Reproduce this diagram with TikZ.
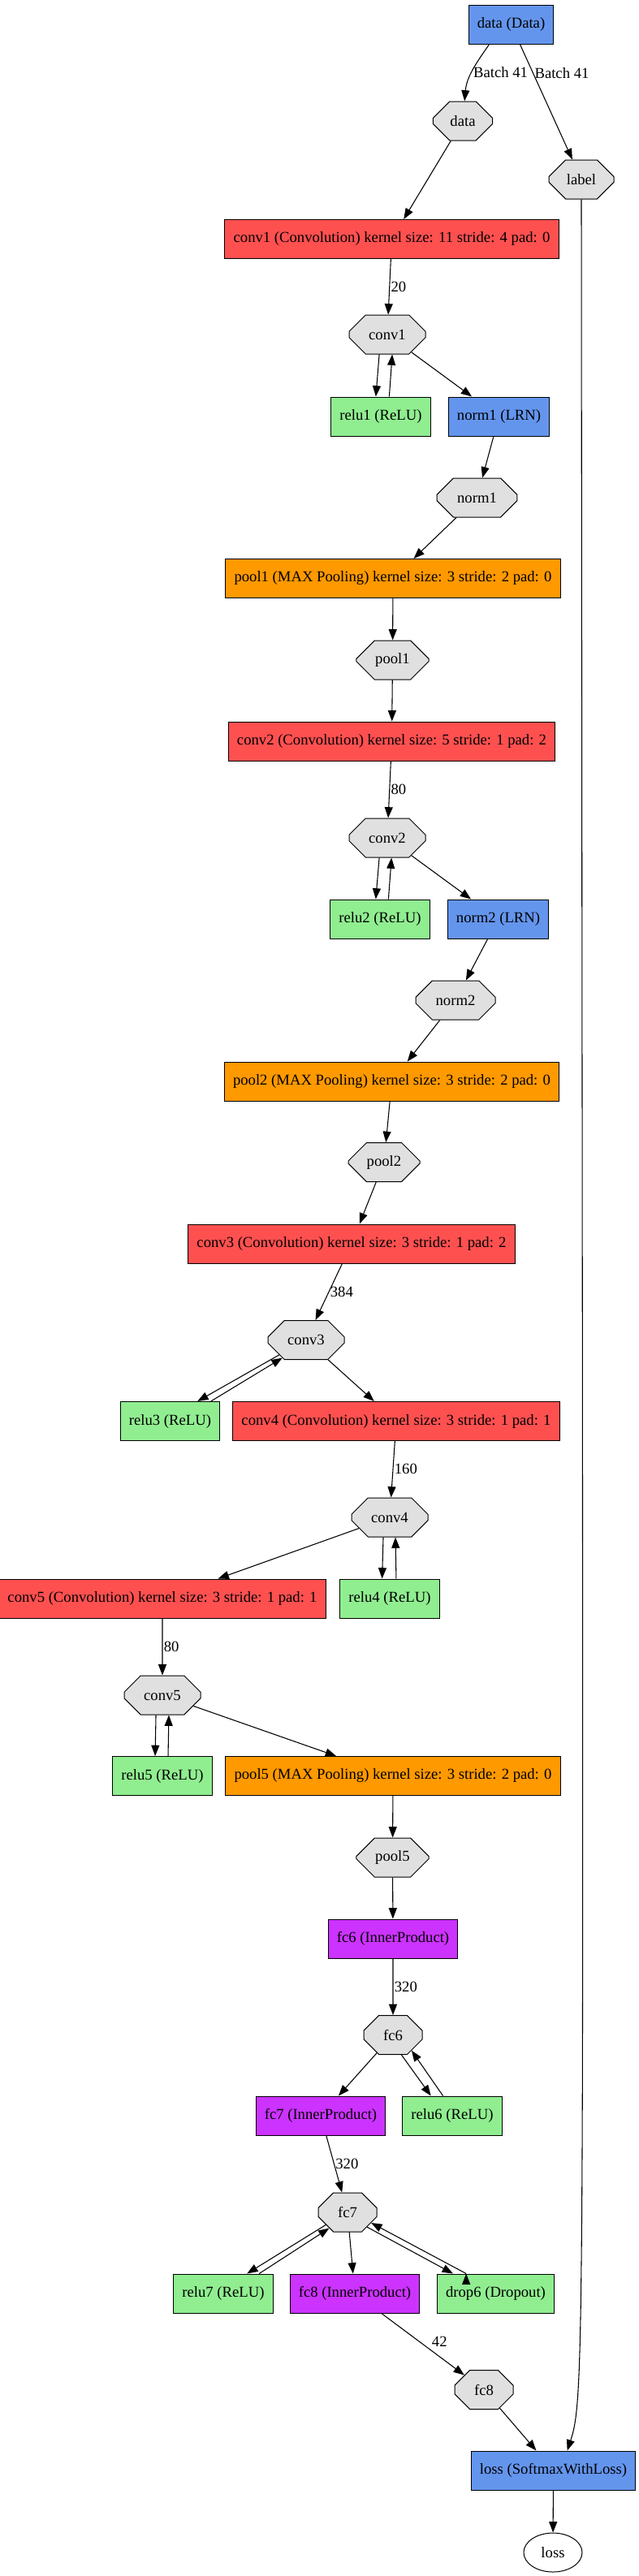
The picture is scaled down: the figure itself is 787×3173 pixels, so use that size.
\documentclass[tikz,border=0pt]{standalone}
\usepackage{fontspec}
\setmainfont{Liberation Serif}
\usetikzlibrary{arrows.meta, shapes.misc, shapes.geometric}
\definecolor{convred}{HTML}{FF5050}
\definecolor{poolorange}{HTML}{FF9900}
\definecolor{fcpurple}{HTML}{CC33FF}
\definecolor{layerblue}{HTML}{6495ED}
\definecolor{relugreen}{HTML}{90EE90}
\definecolor{blobgray}{HTML}{E0E0E0}
\tikzset{
  layer/.style={draw, rectangle, line width=0.75pt, minimum height=36pt, inner xsep=8pt, inner ysep=2pt, font=\fontsize{14}{16}\selectfont},
  convbox/.style={layer, fill=convred},
  poolbox/.style={layer, fill=poolorange},
  fcbox/.style={layer, fill=fcpurple},
  bluebox/.style={layer, fill=layerblue},
  relubox/.style={layer, fill=relugreen},
  blob/.style={draw, chamfered rectangle, chamfered rectangle xsep=19pt, chamfered rectangle ysep=10.5pt, fill=blobgray, line width=0.75pt, minimum height=36pt, minimum width=#1, inner sep=0pt, font=\fontsize{14}{16}\selectfont},
  blob/.default=54pt,
  flow/.style={->, line width=0.8pt},
  lbl/.style={anchor=west, inner sep=1pt, font=\fontsize{14}{16}\selectfont},
  >={Triangle[length=10pt, width=7.5pt]}
}
\begin{document}
\begin{tikzpicture}[x=0.75pt, y=0.75pt]
  \useasboundingbox (0,0) rectangle (787,-3173);
  % input
  \node[bluebox] (dataL) at (629.5,-30.5) {data (Data)};
  \node[blob=55pt] (datab) at (570,-149) {data};
  \node[blob=60pt] (labelb) at (716,-221) {label};
  % conv1 block
  \node[convbox] (conv1) at (482.5,-294.5) {conv1 (Convolution) kernel size: 11 stride: 4 pad: 0};
  \node[blob=70.5pt] (conv1b) at (477,-412) {conv1};
  \node[relubox] (relu1) at (469,-513) {relu1 (ReLU)};
  \node[bluebox] (norm1) at (614.5,-513) {norm1 (LRN)};
  \node[blob=74pt] (norm1b) at (587.5,-613) {norm1};
  \node[poolbox] (pool1) at (484,-712.5) {pool1 (MAX Pooling) kernel size: 3 stride: 2 pad: 0};
  \node[blob=67pt] (pool1b) at (483.5,-813) {pool1};
  % conv2 block
  \node[convbox] (conv2) at (482.5,-913) {conv2 (Convolution) kernel size: 5 stride: 1 pad: 2};
  \node[blob=70.5pt] (conv2b) at (477,-1032) {conv2};
  \node[relubox] (relu2) at (468,-1132) {relu2 (ReLU)};
  \node[bluebox] (norm2) at (613.5,-1132) {norm2 (LRN)};
  \node[blob=73.5pt] (norm2b) at (561,-1232) {norm2};
  \node[poolbox] (pool2) at (482.5,-1332) {pool2 (MAX Pooling) kernel size: 3 stride: 2 pad: 0};
  \node[blob=66pt] (pool2b) at (473,-1431.5) {pool2};
  % conv3 - conv5
  \node[convbox] (conv3) at (433,-1532) {conv3 (Convolution) kernel size: 3 stride: 1 pad: 2};
  \node[blob=70.5pt] (conv3b) at (377,-1650.5) {conv3};
  \node[relubox] (relu3) at (209.5,-1750.5) {relu3 (ReLU)};
  \node[convbox] (conv4) at (488,-1750.5) {conv4 (Convolution) kernel size: 3 stride: 1 pad: 1};
  \node[blob=70.5pt] (conv4b) at (480,-1869) {conv4};
  \node[convbox] (conv5) at (200,-1969) {conv5 (Convolution) kernel size: 3 stride: 1 pad: 1};
  \node[relubox] (relu4) at (480,-1969) {relu4 (ReLU)};
  \node[blob=70.5pt] (conv5b) at (200,-2088) {conv5};
  \node[relubox] (relu5) at (200,-2187.5) {relu5 (ReLU)};
  \node[poolbox] (pool5) at (484,-2187.5) {pool5 (MAX Pooling) kernel size: 3 stride: 2 pad: 0};
  \node[blob=67pt] (pool5b) at (483.5,-2288) {pool5};
  % fully connected part
  \node[fcbox] (fc6) at (484,-2388) {fc6 (InnerProduct)};
  \node[blob] (fc6b) at (484,-2506.5) {fc6};
  \node[fcbox] (fc7) at (395,-2606) {fc7 (InnerProduct)};
  \node[relubox] (relu6) at (557,-2606) {relu6 (ReLU)};
  \node[blob] (fc7b) at (428,-2725) {fc7};
  \node[relubox] (relu7) at (275,-2825) {relu7 (ReLU)};
  \node[fcbox] (fc8) at (437,-2825) {fc8 (InnerProduct)};
  \node[relubox] (drop6) at (610.5,-2825) {drop6 (Dropout)};
  \node[blob] (fc8b) at (596,-2943.5) {fc8};
  \node[bluebox] (lossL) at (681.5,-3043) {loss (SoftmaxWithLoss)};
  \node[draw, ellipse, line width=0.75pt, minimum width=54pt, minimum height=36pt, inner sep=0pt, font=\fontsize{14}{16}\selectfont] (lossout) at (681,-3144) {loss};

  \draw[flow]
    (dataL.-138) edge[out=-125, in=85] node[lbl, pos=.52] {Batch 41} (datab)
    (dataL) edge node[lbl, pos=.25] {Batch 41} (labelb)
    (datab) edge (conv1)
    (conv1) edge node[lbl] {20} (conv1b)
    (conv1b.-112) edge (relu1.104)
    (relu1.67) edge (conv1b.-76)
    (conv1b) edge (norm1)
    (norm1) edge (norm1b)
    (norm1b) edge (pool1)
    (pool1) edge (pool1b)
    (pool1b) edge (conv2)
    (conv2) edge node[lbl] {80} (conv2b)
    (conv2b.-112) edge (relu2.102)
    (relu2.67) edge (conv2b.-78)
    (conv2b) edge (norm2)
    (norm2) edge (norm2b)
    (norm2b) edge (pool2)
    (pool2) edge (pool2b)
    (pool2b) edge (conv3)
    (conv3) edge node[lbl] {384} (conv3b)
    (conv3b.-151) edge (relu3.36)
    (relu3.26) edge (conv3b.-143)
    (conv3b) edge (conv4)
    (conv4) edge node[lbl] {160} (conv4b)
    (conv4b) edge (conv5)
    (conv4b.-108) edge (relu4.111)
    (relu4.72) edge (conv4b.-74)
    (conv5) edge node[lbl] {80} (conv5b)
    (conv5b.-108) edge (relu5.110)
    (relu5.74) edge (conv5b.-72)
    (conv5b) edge (pool5)
    (pool5) edge (pool5b)
    (pool5b) edge (fc6)
    (fc6) edge node[lbl] {320} (fc6b)
    (fc6b) edge (fc7)
    (fc6b.-67) edge (relu6.137)
    (relu6.115) edge (fc6b.-40)
    (fc7) edge node[lbl] {320} (fc7b)
    (fc7b.-150) edge (relu7.40)
    (relu7.29) edge (fc7b.-139)
    (fc7b) edge (fc8)
    (fc7b.-37) edge (drop6.155)
    (drop6.146) edge (fc7b.-24)
    (fc8) edge node[lbl, pos=.46, xshift=10pt] {42} (fc8b)
    (fc8b) edge (lossL)
    (lossL) edge (lossout);
  \draw[flow] (labelb.south) .. controls +(2,-2650) and +(23,70) .. (lossL.55);
\end{tikzpicture}
\end{document}
